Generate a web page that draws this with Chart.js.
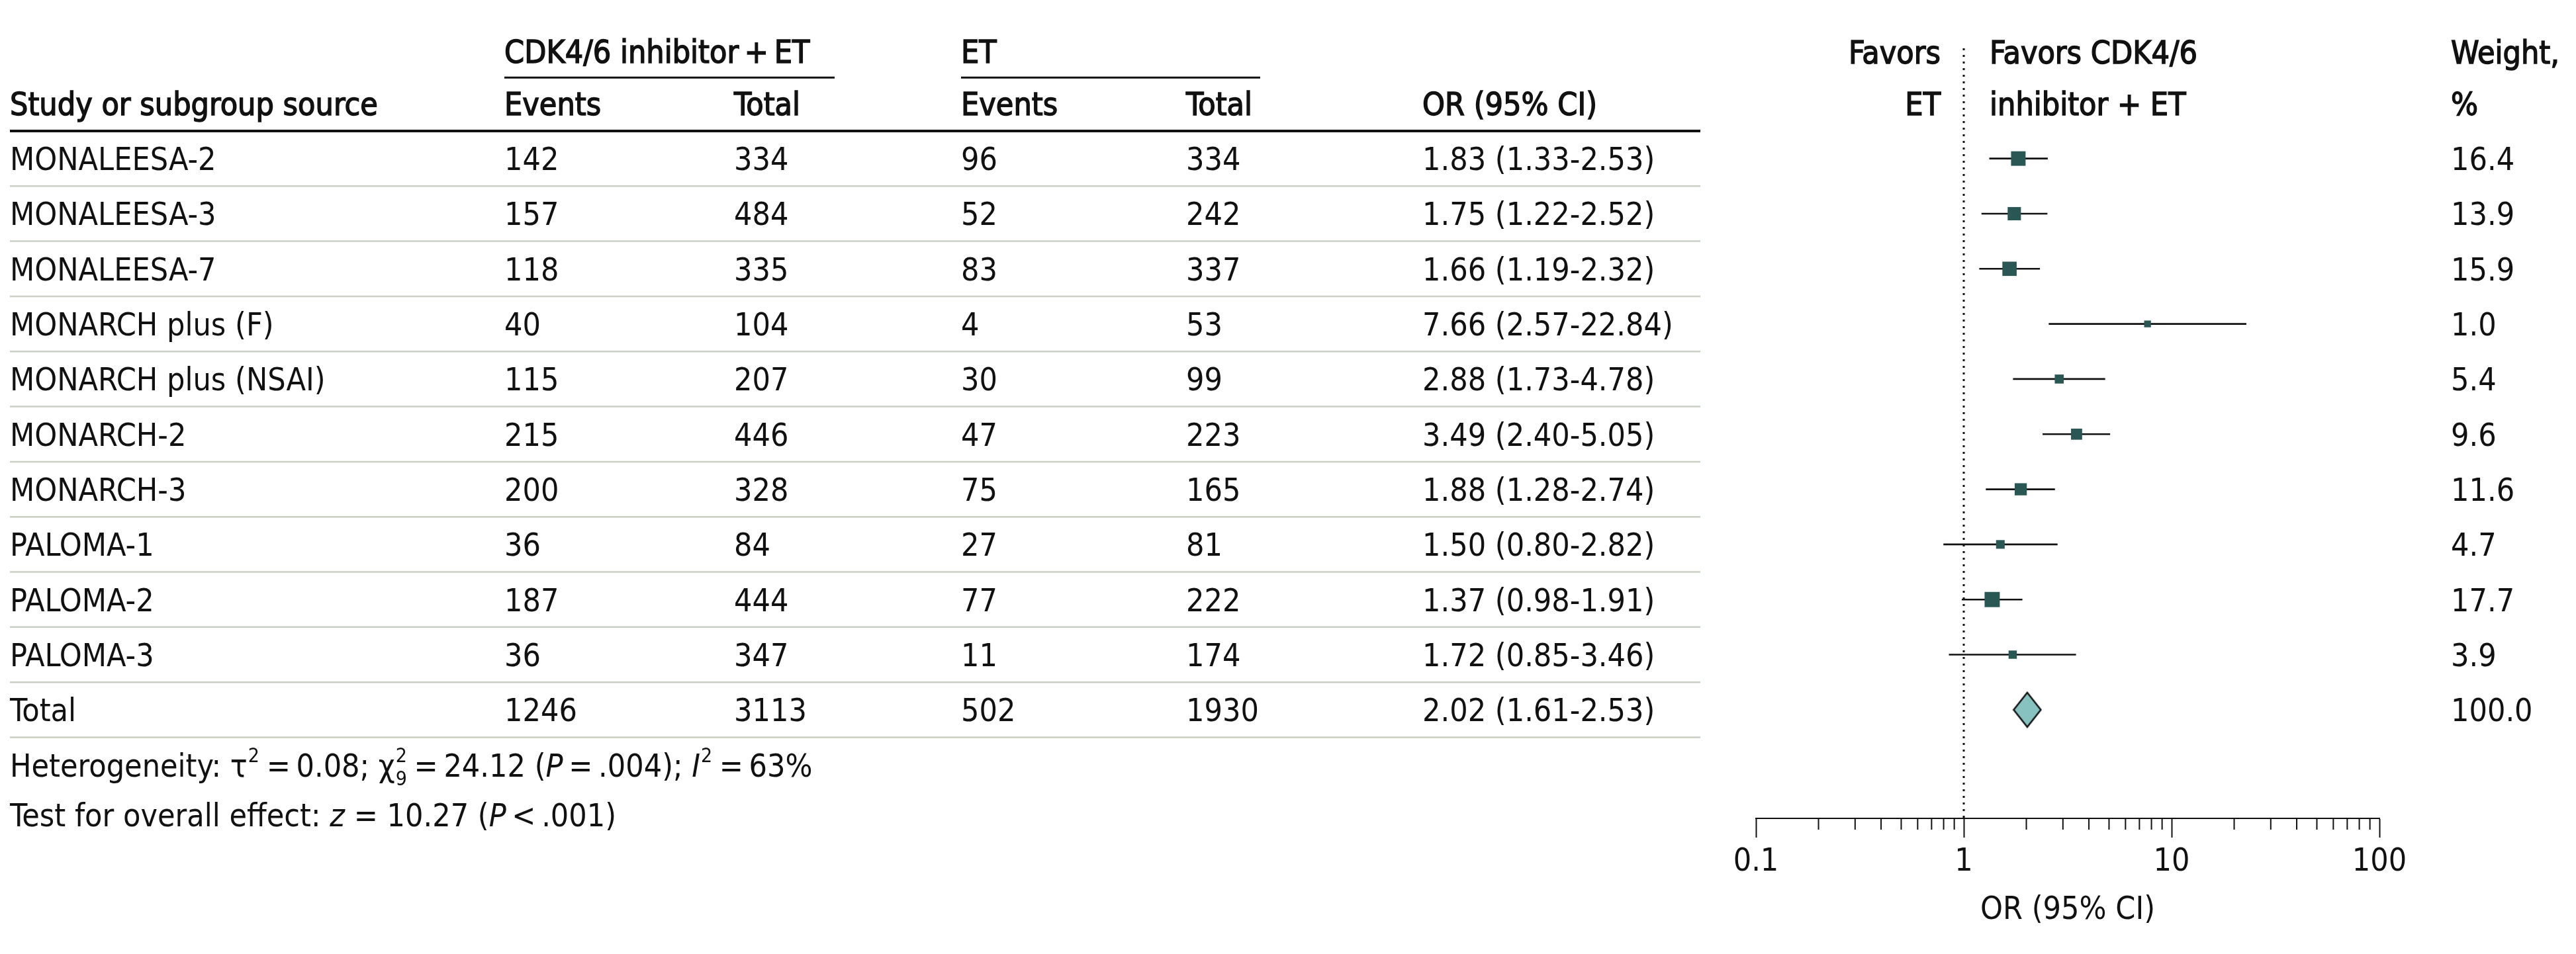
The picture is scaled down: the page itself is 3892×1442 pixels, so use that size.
<!DOCTYPE html>
<html>
<head>
<meta charset="utf-8">
<script src="https://cdn.jsdelivr.net/npm/chart.js@4.4.1/dist/chart.umd.min.js"></script>
<style>
  html, body { margin: 0; padding: 0; background: #fff; }
  #wrap { width: 3892px; height: 1442px; }
</style>
</head>
<body>
<div id="wrap"><canvas id="forest" width="3892" height="1442"></canvas></div>
<script>
// rows of the forest plot, the last one is the pooled total
const studies = ['MONALEESA-2', 'MONALEESA-3', 'MONALEESA-7', 'MONARCH plus (F)', 'MONARCH plus (NSAI)',
  'MONARCH-2', 'MONARCH-3', 'PALOMA-1', 'PALOMA-2', 'PALOMA-3', 'Total'];
const cdkEvents = [142, 157, 118, 40, 115, 215, 200, 36, 187, 36, 1246];
const cdkTotal = [334, 484, 335, 104, 207, 446, 328, 84, 444, 347, 3113];
const etEvents = [96, 52, 83, 4, 30, 47, 75, 27, 77, 11, 502];
const etTotal = [334, 242, 337, 53, 99, 223, 165, 81, 222, 174, 1930];
const oddsRatio = [1.83, 1.75, 1.66, 7.66, 2.88, 3.49, 1.88, 1.50, 1.37, 1.72, 2.02];
const ciLow = [1.33, 1.22, 1.19, 2.57, 1.73, 2.40, 1.28, 0.80, 0.98, 0.85, 1.61];
const ciHigh = [2.53, 2.52, 2.32, 22.84, 4.78, 5.05, 2.74, 2.82, 1.91, 3.46, 2.53];
const weights = [16.4, 13.9, 15.9, 1.0, 5.4, 9.6, 11.6, 4.7, 17.7, 3.9, 100.0];
const xTickValues = [0.1, 1, 10, 100];

const FONT = '"DejaVu Sans Condensed", "DejaVu Sans", sans-serif';
const SIZE = 48;
const INK = '#111';
const nStudies = studies.length - 1;

// table columns (left edges)
const colX = [15, 762, 1109, 1452, 1792, 2149];
const tableRight = 2569;

function put(ctx, str, x, yMid, o = {}) {
    const size = o.size || SIZE;
    ctx.font = (o.italic ? 'italic ' : '') + size + 'px ' + FONT;
    ctx.textAlign = o.align || 'left';
    ctx.textBaseline = 'alphabetic';
    ctx.fillStyle = INK;
    const y = yMid + size * 0.365;
    ctx.fillText(str, x, y);
    if (o.bold) {
        ctx.lineWidth = 1.4;
        ctx.strokeStyle = INK;
        ctx.strokeText(str, x, y);
    }
    return ctx.measureText(str).width;
}

function rich(ctx, parts, x, yMid) {
    let cx = x;
    parts.forEach(p => {
        if (typeof p === 'string') {
            cx += put(ctx, p, cx, yMid);
            return;
        }
        if (p.i) cx += put(ctx, p.i, cx, yMid, { italic: true });
        if (p.sup || p.sub) {
            let w = 0;
            if (p.sup) w = Math.max(w, put(ctx, p.sup, cx + 1, yMid - 15, { size: 30 }));
            if (p.sub) w = Math.max(w, put(ctx, p.sub, cx + 1, yMid + 20, { size: 30 }));
            cx += w + 3;
        }
    });
}

function hline(ctx, x1, x2, y, width, color) {
    ctx.beginPath();
    ctx.moveTo(x1, y);
    ctx.lineTo(x2, y);
    ctx.lineWidth = width;
    ctx.strokeStyle = color;
    ctx.stroke();
}

const tablePlugin = {
    id: 'table',
    afterDraw(chart) {
        const ctx = chart.ctx;
        const ys = chart.scales.y;
        const xs = chart.scales.x;
        const Y = v => ys.getPixelForValue(v);
        ctx.save();

        // header
        put(ctx, 'CDK4/6 inhibitor\u2009+\u2009ET', colX[1], Y(-1.95), { bold: true });
        put(ctx, 'ET', colX[3], Y(-1.95), { bold: true });
        hline(ctx, colX[1], 1261, Y(-1.47), 3, INK);
        hline(ctx, colX[3], 1904, Y(-1.47), 3, INK);
        ['Study or subgroup source', 'Events', 'Total', 'Events', 'Total', 'OR (95% CI)'].forEach((h, i) => {
            put(ctx, h, colX[i], Y(-1), { bold: true });
        });
        hline(ctx, colX[0], tableRight, Y(-0.5), 4, INK);

        put(ctx, 'Favors', 2932, Y(-1.93), { bold: true, align: 'right' });
        put(ctx, 'ET', 2932, Y(-1), { bold: true, align: 'right' });
        put(ctx, 'Favors CDK4/6', 3006, Y(-1.93), { bold: true });
        put(ctx, 'inhibitor + ET', 3006, Y(-1), { bold: true });
        put(ctx, 'Weight,', 3703, Y(-1.93), { bold: true });
        put(ctx, '%', 3703, Y(-1), { bold: true });

        // body rows
        studies.forEach((s, i) => {
            const y = Y(i);
            const orText = oddsRatio[i].toFixed(2) + ' (' + ciLow[i].toFixed(2) + '-' + ciHigh[i].toFixed(2) + ')';
            [s, cdkEvents[i], cdkTotal[i], etEvents[i], etTotal[i], orText].forEach((t, c) => {
                put(ctx, String(t), colX[c], y);
            });
            put(ctx, weights[i].toFixed(1), 3703, y);
            hline(ctx, colX[0], tableRight, Y(i + 0.5), 2.5, '#c9d0c3');
        });

        // footnotes
        rich(ctx, ['Heterogeneity: \u03c4', { sup: '2' }, '\u2009=\u20090.08; \u03c7', { sup: '2', sub: '9' },
            '\u2009=\u200924.12 (', { i: 'P' }, '\u2009=\u2009.004); ', { i: 'I' }, { sup: '2' }, '\u2009=\u200963%'],
            colX[0], Y(11));
        rich(ctx, ['Test for overall effect: ', { i: 'z' }, ' = 10.27 (', { i: 'P' }, '\u2009<\u2009.001)'],
            colX[0], Y(11.9));

        // minor ticks of the log axis
        ctx.beginPath();
        for (let d = 0; d < xTickValues.length - 1; d++) {
            for (let k = 2; k <= 9; k++) {
                const px = xs.getPixelForValue(xTickValues[d] * k);
                ctx.moveTo(px, xs.top);
                ctx.lineTo(px, xs.top + 17);
            }
        }
        ctx.lineWidth = 2;
        ctx.strokeStyle = INK;
        ctx.stroke();
        ctx.restore();
    }
};

function diamondImage() {
    const c = document.createElement('canvas');
    c.width = 45;
    c.height = 56;
    const g = c.getContext('2d');
    g.beginPath();
    g.moveTo(22.5, 2);
    g.lineTo(43, 28);
    g.lineTo(22.5, 54);
    g.lineTo(2, 28);
    g.closePath();
    g.fillStyle = '#87c1c0';
    g.fill();
    g.lineWidth = 2.5;
    g.strokeStyle = INK;
    g.stroke();
    return c;
}

const yMin = -2, yMax = 11.97;
const rowIdx = studies.map((s, i) => i).slice(0, nStudies);

new Chart(document.getElementById('forest'), {
    type: 'scatter',
    data: {
        datasets: [{
            // study point estimates, square size from weight
            type: 'scatter',
            order: 0,
            data: rowIdx.map(i => ({ x: oddsRatio[i], y: i })),
            pointStyle: 'rect',
            pointRadius: ctx => (9.5 + 0.76 * weights[ctx.dataIndex]) / Math.SQRT2,
            pointBackgroundColor: '#2a5654',
            pointBorderWidth: 0
        }, {
            // pooled estimate
            type: 'scatter',
            order: 0,
            data: [{ x: oddsRatio[nStudies], y: nStudies }],
            pointStyle: diamondImage(),
            pointRadius: 20
        }, {
            // confidence intervals
            type: 'bar',
            order: 1,
            indexAxis: 'y',
            data: rowIdx.map(i => ({ y: i, x: [ciLow[i], ciHigh[i]] })),
            backgroundColor: INK,
            borderWidth: 0,
            barThickness: 2
        }, {
            // line of no effect
            type: 'line',
            order: 2,
            data: [{ x: 1, y: yMin }, { x: 1, y: yMax }],
            borderColor: INK,
            borderWidth: 3,
            borderDash: [3, 7],
            pointRadius: 0,
            showLine: true
        }]
    },
    options: {
        responsive: false,
        animation: false,
        events: [],
        layout: { padding: { left: 2653, right: 297, top: 73, bottom: 0 } },
        plugins: {
            legend: { display: false },
            tooltip: { enabled: false }
        },
        scales: {
            x: {
                type: 'logarithmic',
                min: 0.1,
                max: 100,
                offset: false,
                afterBuildTicks: scale => {
                    scale.ticks = xTickValues.map(v => ({ value: v, major: true }));
                },
                afterFit: scale => {
                    scale.height = 205;
                },
                ticks: {
                    autoSkip: false,
                    maxRotation: 0,
                    padding: 9,
                    color: INK,
                    font: { family: FONT, size: 48 },
                    callback: v => String(v)
                },
                grid: {
                    drawOnChartArea: false,
                    tickLength: 29,
                    tickColor: INK,
                    tickWidth: 2
                },
                border: { display: true, color: INK, width: 2 },
                title: {
                    display: true,
                    text: 'OR (95% CI)',
                    color: INK,
                    font: { family: FONT, size: 48 },
                    padding: { top: 0, bottom: 37 }
                }
            },
            y: {
                type: 'linear',
                display: false,
                offset: false,
                reverse: true,
                min: yMin,
                max: yMax
            }
        }
    },
    plugins: [tablePlugin]
});
</script>
</body>
</html>
